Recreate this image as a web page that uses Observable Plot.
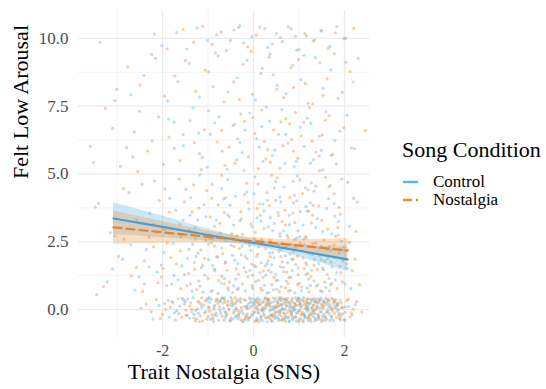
<!DOCTYPE html>
<html>
<head>
<meta charset="utf-8">
<script src="https://cdn.jsdelivr.net/npm/d3@7"></script>
<script src="https://cdn.jsdelivr.net/npm/@observablehq/plot@0.6"></script>
<style>
  html, body { margin: 0; padding: 0; background: white; }
  #wrap { position: relative; width: 546px; height: 389px; font-family: "Liberation Serif", "Times New Roman", serif; }
  #chart svg text { font-family: "Liberation Serif", "Times New Roman", serif !important; }
  #legend { position: absolute; left: 402px; top: 137px; color: #000; }
  #legend .title { font-size: 22px; line-height: 26px; white-space: nowrap; }
  #legend .item { font-size: 17px; line-height: 18px; white-space: nowrap; display: flex; align-items: center; }
  #legend .item.first { margin-top: 10px; }
  #legend svg { margin-right: 14px; }
</style>
</head>
<body>
<div id="wrap"><div id="chart"></div><div id="legend"></div></div>
<script>
// ---- data ----
const seriesNames = ["Control", "Nostalgia"];
const seriesColors = ["#56B4E9", "#F0892A"];
const xTicks = [-2, 0, 2];
const xMinor = [-3, -1, 1];
const yTicks = [0, 2.5, 5, 7.5, 10];
const yMinor = [1.25, 3.75, 6.25, 8.75];

// Control participants: [trait nostalgia, felt low arousal] (jittered)
const controlPts = [
[-1.62,0.12],[-1.41,-0.31],[-1.20,0.27],[-1.05,-0.08],[-0.93,0.38],[-0.81,-0.22],[-0.66,0.05],[-0.52,-0.40],[-0.44,0.21],[-0.31,-0.13],[-0.18,0.33],[-0.07,-0.27],[0.04,0.09],[0.15,-0.36],[0.27,0.18],[0.36,-0.05],[0.48,0.41],[0.57,-0.19],[0.69,0.02],[0.78,-0.44],[0.88,0.26],[0.97,-0.11],[1.08,0.35],[1.19,-0.29],[1.28,0.07],[1.39,-0.38],[1.51,0.16],[1.63,-0.02],[1.77,0.30],[1.92,-0.24],
[-2.21,-0.35],[-1.95,0.22],[-1.74,-0.12],[-1.33,0.44],[-1.12,-0.42],[-0.98,0.10],[-0.74,0.29],[-0.59,-0.17],[-0.38,0.02],[-0.23,-0.44],[-0.12,0.19],[0.01,0.40],[0.11,-0.14],[0.22,0.31],[0.31,-0.30],[0.43,-0.01],[0.53,0.24],[0.62,-0.39],[0.73,0.14],[0.84,-0.09],[0.92,0.43],[1.03,-0.33],[1.14,0.04],[1.24,0.22],[1.35,-0.15],[1.46,0.37],[1.58,-0.41],[1.70,0.09],[1.84,-0.06],[2.09,0.11],
[-2.48,0.05],[-1.86,-0.28],[-1.54,0.36],[-1.27,-0.03],[-0.89,-0.34],[-0.70,0.42],[-0.47,0.13],[-0.28,0.26],[-0.02,-0.20],[0.08,0.25],[0.19,0.00],[0.33,0.39],[0.40,-0.24],[0.51,0.08],[0.60,0.33],[0.66,-0.12],[0.75,-0.31],[0.81,0.20],[0.91,0.03],[1.01,0.28],[1.11,-0.21],[1.21,0.40],[1.31,-0.05],[1.43,-0.27],[1.55,0.25],[1.66,-0.16],[1.81,0.06],[1.99,-0.37],[2.24,0.18],[-0.15,0.07],
[-1.48,-0.20],[-0.85,0.16],[-0.56,0.31],[-0.35,-0.33],[-0.09,0.43],[0.06,-0.41],[0.24,-0.22],[0.45,0.29],[0.71,0.37],[0.86,-0.26],[0.99,-0.45],[1.16,0.18],[1.34,0.31],[1.49,-0.08],[1.72,-0.33],[-1.02,0.34],[0.13,0.17],[0.55,-0.07],[1.26,-0.43],[-0.62,-0.30],
[-1.57,0.41],[-1.36,-0.09],[-1.16,0.20],[-0.99,-0.26],[-0.87,0.02],[-0.77,-0.40],[-0.68,0.24],[-0.54,-0.02],[-0.46,-0.35],[-0.36,0.36],[-0.26,-0.06],[-0.16,-0.23],[-0.05,0.28],[0.03,-0.10],[0.09,0.42],[0.17,-0.28],[0.26,0.04],[0.34,0.21],[0.41,-0.43],[0.50,-0.11],[0.58,0.16],[0.64,0.39],[0.71,-0.24],[0.80,0.06],[0.87,-0.38],[0.94,0.15],[1.02,-0.04],[1.09,-0.40],[1.17,0.27],[1.23,-0.17],[1.30,0.38],[1.37,0.01],[1.44,-0.22],[1.53,0.32],[1.60,-0.10],[1.68,0.19],[1.76,-0.41],[1.86,0.25],[1.96,0.08],[2.17,-0.20],
[-1.80,0.30],[-1.25,-0.35],[-0.96,0.27],[-0.72,-0.14],[-0.50,0.44],[-0.32,-0.25],[-0.20,0.11],[-0.11,-0.39],[0.00,0.23],[0.10,0.02],[0.20,-0.41],[0.29,0.35],[0.38,-0.19],[0.46,0.12],[0.55,-0.33],[0.63,0.05],[0.74,0.30],[0.83,-0.16],[0.90,-0.02],[1.00,0.41],[1.06,0.14],[1.13,-0.31],[1.20,0.06],[1.32,-0.26],[1.41,0.23],[1.48,0.42],[1.57,-0.30],[1.65,0.10],[1.75,0.37],[1.89,-0.14],
[-1.69,-0.05],[-1.50,0.30],[-1.31,-0.18],[-1.14,0.09],[-0.95,-0.37],[-0.79,0.35],[-0.63,-0.08],[-0.49,0.18],[-0.40,-0.27],[-0.29,0.41],[-0.14,-0.16],[-0.03,0.14],[0.07,-0.31],[0.14,0.37],[0.21,-0.06],[0.30,-0.45],[0.39,0.26],[0.47,-0.22],[0.56,0.43],[0.61,-0.01],[0.68,-0.35],[0.77,0.24],[0.85,0.09],[0.93,-0.29],[1.04,0.19],[1.10,0.44],[1.18,-0.07],[1.27,0.30],[1.36,-0.32],[1.45,0.05],[1.54,-0.18],[1.62,0.38],[1.71,-0.26],[1.79,0.13],[1.91,0.35],[2.02,-0.10],[-2.08,0.16],[-1.38,0.25],[-0.83,-0.13],[-0.19,-0.36],[0.35,0.12],[0.79,-0.42],[1.19,0.12],[1.52,-0.38],[1.85,0.20],[-0.64,0.43],[0.02,0.32],[0.52,-0.29],[0.96,0.36],[1.40,0.40],[-1.21,-0.14],[-0.42,-0.05],[0.25,0.41],[0.70,0.22],[1.12,-0.17],[1.61,0.27],[-0.97,0.44],[0.44,0.04],[0.88,-0.03],[1.33,0.17],
[-3.22,1.02],[-2.88,1.85],[-2.61,0.72],[-2.35,2.21],[-2.12,1.38],[-1.91,0.88],[-1.77,2.44],[-1.58,1.61],[-1.39,0.95],[-1.22,2.08],[-1.07,1.27],[-0.94,0.66],[-0.79,1.93],[-0.64,1.14],[-0.49,2.37],[-0.33,0.79],[-0.21,1.55],[-0.06,2.19],[0.05,1.03],[0.17,1.72],[0.29,0.61],[0.38,2.48],[0.49,1.31],[0.61,0.84],[0.70,1.99],[0.82,1.18],[0.93,2.28],[1.05,0.70],[1.17,1.66],[1.29,2.03],[1.41,0.92],[1.54,1.47],[1.67,2.33],[1.80,1.09],[1.96,1.79],[2.14,0.77],
[-1.66,1.10],[-1.30,1.74],[-0.99,2.42],[-0.71,0.98],[-0.41,1.82],[-0.12,1.21],[0.11,2.31],[0.33,1.45],[0.56,2.14],[0.77,0.68],[0.98,1.53],[1.21,1.12],[1.37,2.45],[1.59,0.81],[1.88,2.09],[-2.03,1.64],[-0.55,0.72],[0.24,0.90],[0.87,1.86],[1.46,1.97],
[-1.11,0.64],[0.45,1.91],[1.12,2.40],[-0.27,2.02],[0.66,1.40],[1.73,1.58],[-2.52,1.22],[-0.86,1.49],[0.02,1.62],[1.01,0.97],
[-1.45,1.88],[-1.18,0.86],[-0.90,1.62],[-0.61,2.55],[-0.39,1.12],[-0.18,0.69],[0.07,1.95],[0.27,1.27],[0.51,0.75],[0.63,2.43],[0.85,1.44],[1.07,2.17],[1.25,0.88],[1.43,1.69],[1.62,2.22],[1.83,1.36],[2.01,0.95],[-1.97,2.10],[-2.30,1.57],[-0.78,0.60],[0.40,1.66],[0.72,1.05],[1.15,1.30],[1.51,0.66],[-0.08,1.45],[0.18,2.58],[0.95,2.64],[-1.28,2.60],[1.93,2.52],[-0.46,2.00],
[-1.52,1.29],[-0.35,1.70],[0.34,0.63],[0.80,2.05],[1.34,1.85],[1.69,0.92],[-0.99,1.84],[0.59,1.58],[-2.70,2.40],[-3.10,1.50],
[-1.75,1.26],[-1.42,2.22],[-1.15,1.54],[-0.88,2.63],[-0.62,1.76],[-0.44,0.88],[-0.25,2.34],[-0.02,0.78],[0.14,1.36],[0.35,2.09],[0.53,1.08],[0.75,1.72],[0.91,0.62],[1.10,2.60],[1.28,1.45],[1.49,2.33],[1.66,1.15],[1.86,2.75],[2.06,1.52],[-2.15,2.86],[-1.05,3.42],[-0.52,3.85],[0.08,3.38],[0.46,3.17],[0.88,3.94],[1.37,3.03],[1.77,3.91],[-1.62,3.15],[-0.30,3.28],[0.66,2.90],
[-1.35,0.68],[-0.70,2.27],[-0.14,1.88],[0.30,1.70],[0.83,2.40],[1.18,0.79],[1.57,1.78],[1.99,2.32],[-2.40,0.95],[0.58,2.70],
[-3.41,3.92],[-3.05,2.71],[-2.74,4.31],[-2.43,3.18],[-2.18,4.75],[-1.93,2.95],[-1.71,3.66],[-1.49,4.44],[-1.28,3.02],[-1.09,3.87],[-0.91,4.62],[-0.73,2.83],[-0.57,3.49],[-0.40,4.18],[-0.24,2.77],[-0.10,3.71],[0.03,4.89],[0.16,3.26],[0.30,4.03],[0.42,2.91],[0.54,3.58],[0.67,4.52],[0.79,3.13],[0.90,4.21],[1.02,2.68],[1.15,3.80],[1.27,4.67],[1.40,3.35],[1.52,2.88],[1.65,4.09],[1.79,3.44],[1.94,4.81],[2.11,3.07],[2.28,3.96],
[-1.60,2.69],[-1.18,4.96],[-0.82,3.30],[-0.47,2.64],[-0.15,4.34],[0.21,3.89],[0.49,4.71],[0.74,2.74],[1.09,3.12],[1.33,4.37],[1.61,3.73],[-2.28,3.55],[-0.66,4.08],[0.37,3.39],[0.96,4.93],[1.72,2.79],
[-0.03,3.05],[0.60,3.97],[1.21,3.63],[-1.38,4.12],
[-1.84,4.10],[-1.40,3.48],[-1.02,5.25],[-0.70,4.46],[-0.44,3.12],[-0.21,5.12],[0.01,4.27],[0.23,3.64],[0.41,5.68],[0.58,4.15],[0.78,3.48],[0.94,5.47],[1.14,4.49],[1.31,3.84],[1.49,5.88],[1.69,4.57],[1.87,3.24],[-2.45,4.62],[-1.55,6.45],[-0.86,6.88],[-0.30,6.16],[0.18,6.75],[0.71,6.46],[1.25,5.40],[1.79,6.24],[-0.57,4.79],[0.32,3.05],[1.03,3.61],[-1.23,3.30],[0.87,4.72],
[-3.52,5.42],[-3.10,6.68],[-2.79,5.97],[-2.51,7.31],[-2.23,6.22],[-1.98,5.35],[-1.75,6.91],[-1.54,6.05],[-1.33,7.44],[-1.13,5.61],[-0.95,6.47],[-0.76,7.12],[-0.58,5.18],[-0.42,6.83],[-0.25,5.79],[-0.08,7.25],[0.07,6.31],[0.21,5.47],[0.35,6.95],[0.47,5.88],[0.62,7.38],[0.76,6.14],[0.89,5.26],[1.03,6.72],[1.18,7.06],[1.32,5.53],[1.45,6.39],[1.59,7.29],[1.74,5.72],[1.90,6.58],[2.06,7.17],[2.22,5.94],
[-1.87,7.02],[-1.21,6.51],[-0.69,5.84],[-0.19,6.63],[0.28,7.47],[0.69,5.39],[1.11,6.02],[1.52,5.15],[-0.37,5.52],[0.55,6.46],[1.26,6.87],[-2.66,5.63],[0.13,5.99],
[-3.38,9.85],[-3.01,8.12],[-2.70,7.92],[-2.41,8.63],[-2.16,9.27],[-1.89,7.69],[-1.66,8.41],[-1.42,9.08],[-1.19,7.84],[-0.99,8.77],[-0.78,9.36],[-0.56,8.02],[-0.36,8.55],[-0.14,9.19],[0.04,7.73],[0.19,8.89],[0.36,9.42],[0.52,8.27],[0.71,7.96],[0.86,9.01],[1.04,8.48],[1.20,7.61],[1.36,9.29],[1.53,8.16],[1.70,8.84],[1.86,7.78],[2.03,9.12],[2.19,8.39],[-0.89,8.22],[0.43,8.66],[1.11,9.38],
[-2.02,9.74],[-1.69,10.22],[-1.47,9.61],[-1.24,10.38],[-1.01,9.92],[-0.81,10.13],[-0.60,9.55],[-0.43,10.31],[-0.22,9.83],[-0.04,10.06],[0.14,10.42],[0.31,9.67],[0.50,10.19],[0.64,9.88],[0.83,10.35],[1.00,9.59],[1.16,10.09],[1.34,9.95],[1.50,10.27],[1.68,9.71],[1.83,10.44],[2.03,10.01],[-0.30,10.47],[0.92,10.08]
];

// Nostalgia participants: [trait nostalgia, felt low arousal] (jittered)
const nostalgiaPts = [
[-2.36,0.21],[-2.05,-0.33],[-1.83,0.08],[-1.64,-0.15],[-1.45,0.39],[-1.28,-0.42],[-1.10,0.17],[-0.96,-0.06],[-0.83,0.31],[-0.69,-0.25],[-0.54,0.03],[-0.41,0.44],[-0.29,-0.37],[-0.16,0.12],[-0.04,-0.18],[0.07,0.36],[0.18,-0.03],[0.29,0.23],[0.39,-0.41],[0.50,0.15],[0.59,-0.12],[0.68,0.40],[0.77,-0.28],[0.87,0.06],[0.96,0.32],[1.06,-0.20],[1.15,0.11],[1.25,-0.35],[1.36,0.27],[1.47,-0.09],[1.59,0.42],[1.71,-0.23],[1.85,0.14],[2.01,-0.40],[2.19,0.02],
[-2.14,0.37],[-1.72,-0.39],[-1.52,0.20],[-1.36,0.01],[-1.17,-0.23],[-1.01,0.41],[-0.88,-0.44],[-0.75,0.09],[-0.61,-0.10],[-0.48,0.27],[-0.34,-0.04],[-0.21,0.38],[-0.10,-0.29],[0.02,0.19],[0.12,-0.45],[0.23,0.07],[0.34,0.34],[0.44,-0.16],[0.54,0.25],[0.64,-0.36],[0.72,0.13],[0.82,-0.07],[0.91,0.22],[1.01,-0.38],[1.10,0.30],[1.20,-0.01],[1.31,0.16],[1.42,-0.30],[1.53,0.05],[1.65,0.35],[1.78,-0.14],[1.93,0.24],[2.12,-0.27],[2.38,-0.09],
[-1.93,0.00],[-1.58,-0.29],[-1.22,0.29],[-0.92,-0.17],[-0.64,0.36],[-0.38,-0.22],[-0.13,0.04],[0.10,-0.08],[0.26,0.43],[0.41,0.10],[0.57,0.38],[0.70,-0.43],[0.80,0.28],[0.94,-0.13],[1.04,0.08],[1.18,0.39],[1.28,-0.18],[1.40,0.12],[1.50,-0.44],[1.62,0.20],[1.75,0.04],[1.89,-0.32],[2.05,0.33],[-0.50,-0.31],[0.33,-0.26],[0.61,0.19],[0.99,-0.04],[1.23,0.21],[1.45,0.33],[1.68,-0.40],
[-1.08,-0.12],[-0.78,0.22],[-0.25,-0.42],[0.05,0.30],[0.47,-0.33],[0.85,0.41],[1.13,-0.25],[1.33,-0.03],[1.56,0.15],[1.81,0.37],[0.20,0.26],[0.66,0.01],[-0.58,0.14],[1.96,-0.16],
[-1.77,0.25],[-1.49,-0.02],[-1.31,-0.31],[-1.14,0.43],[-0.99,0.06],[-0.86,-0.21],[-0.73,0.33],[-0.65,-0.40],[-0.56,0.18],[-0.44,-0.12],[-0.37,0.30],[-0.27,0.07],[-0.19,-0.34],[-0.08,0.26],[0.00,-0.09],[0.08,-0.38],[0.15,0.21],[0.22,-0.15],[0.31,0.39],[0.37,0.00],[0.45,-0.27],[0.52,0.32],[0.58,-0.05],[0.63,0.17],[0.69,-0.30],[0.75,0.41],[0.83,-0.19],[0.89,0.10],[0.95,-0.42],[1.02,0.24],[1.08,-0.11],[1.16,0.35],[1.21,-0.29],[1.29,0.05],[1.35,-0.40],[1.43,0.28],[1.51,0.09],[1.58,-0.25],[1.66,0.31],[1.73,-0.06],[1.83,0.18],[1.91,-0.38],[2.02,0.10],[2.27,0.29],
[-2.00,-0.18],[-1.40,0.14],[-1.03,-0.35],[-0.81,0.40],[-0.60,-0.22],[-0.40,0.22],[-0.23,-0.15],[-0.06,0.40],[0.06,0.04],[0.16,-0.24],[0.28,0.13],[0.36,-0.34],[0.48,0.07],[0.56,-0.40],[0.67,0.27],[0.74,-0.12],[0.84,0.33],[0.92,-0.27],[1.00,0.16],[1.09,-0.45],[1.19,0.25],[1.27,-0.09],[1.34,0.41],[1.41,-0.17],[1.49,0.21],[1.61,-0.34],[1.70,0.02],[1.79,0.29],[1.87,-0.21],[2.08,0.38],
[-1.66,0.40],[-1.46,-0.21],[-1.23,0.03],[-1.06,0.32],[-0.91,-0.30],[-0.74,-0.03],[-0.62,0.27],[-0.51,-0.42],[-0.39,0.06],[-0.30,0.33],[-0.17,-0.26],[-0.07,0.09],[0.03,-0.43],[0.11,0.28],[0.19,0.06],[0.27,-0.31],[0.35,0.19],[0.43,0.42],[0.49,-0.08],[0.55,0.12],[0.62,-0.25],[0.71,0.35],[0.78,-0.04],[0.86,-0.33],[0.92,0.18],[0.98,0.43],[1.05,-0.15],[1.12,0.20],[1.20,-0.40],[1.26,0.37],[1.32,-0.12],[1.39,0.08],[1.46,-0.36],[1.55,0.29],[1.63,-0.08],[1.72,0.42],[1.82,-0.30],[1.94,0.07],[2.15,-0.12],[-2.25,-0.08],[-1.88,0.33],[-1.19,-0.45],[-0.68,0.42],[-0.33,-0.18],[0.09,0.14],[0.40,-0.21],[0.80,0.12],[1.17,0.03],[1.52,-0.26],[1.76,0.23],[-0.87,0.10],[-0.12,-0.33],[0.32,0.29],[0.68,-0.16],[1.03,0.36],[1.37,0.31],[1.87,0.01],[-0.47,0.35],[0.60,0.44],[1.24,-0.21],
[-3.30,0.85],[-2.97,1.96],[-2.69,1.24],[-2.44,0.67],[-2.20,2.31],[-1.99,1.52],[-1.80,0.94],[-1.61,2.17],[-1.43,1.33],[-1.25,0.74],[-1.08,1.88],[-0.92,2.46],[-0.77,1.07],[-0.62,1.71],[-0.46,0.63],[-0.31,2.26],[-0.17,1.39],[-0.03,0.88],[0.09,2.04],[0.21,1.19],[0.32,1.81],[0.44,0.73],[0.55,2.39],[0.65,1.56],[0.76,0.96],[0.87,2.12],[0.98,1.28],[1.09,1.90],[1.22,0.65],[1.33,1.63],[1.44,2.27],[1.57,1.01],[1.70,1.75],[1.84,0.78],[2.00,2.18],[2.17,1.43],[2.33,0.92],
[-1.70,1.68],[-1.34,2.41],[-1.00,1.15],[-0.68,2.06],[-0.38,1.50],[-0.09,2.36],[0.16,0.79],[0.39,1.37],[0.60,1.95],[0.81,0.71],[1.03,2.44],[1.26,1.21],[1.49,1.84],[1.77,2.38],[-2.10,0.99],[-0.85,1.44],[0.27,2.25],[0.93,1.66],[1.38,0.86],[-0.53,1.02],[0.71,2.30],[1.62,1.30],[-1.16,2.20],[0.05,1.58],[1.15,1.72],[-0.24,0.95],[0.50,1.08],
[-1.60,0.77],[-1.30,1.49],[-1.05,2.55],[-0.81,1.96],[-0.57,0.80],[-0.33,1.30],[-0.13,2.51],[0.11,1.08],[0.26,1.61],[0.42,2.10],[0.57,0.66],[0.73,1.38],[0.90,2.59],[1.06,0.83],[1.22,2.06],[1.40,1.47],[1.55,2.56],[1.72,0.96],[1.90,1.60],[2.10,2.48],[-2.40,1.80],[-1.90,2.45],[-0.70,1.23],[0.36,2.55],[0.84,1.85],[1.31,2.43],[1.63,1.88],[-0.43,2.32],[0.19,0.71],[1.11,1.52],
[-2.85,2.60],[-1.20,1.05],[-0.02,1.27],[0.63,1.76],[1.47,0.70],[0.97,0.92],[-0.90,0.70],[0.45,1.18],[1.95,1.02],[-3.45,0.55],
[-1.82,1.92],[-1.47,0.88],[-1.12,1.62],[-0.86,2.34],[-0.58,1.45],[-0.36,0.74],[-0.18,1.97],[0.02,2.61],[0.22,1.42],[0.40,0.92],[0.60,2.22],[0.78,1.18],[0.96,1.97],[1.16,2.64],[1.33,1.06],[1.52,1.53],[1.69,2.18],[1.92,1.35],[2.23,1.85],[-2.58,1.55],[-1.35,3.60],[-0.74,3.18],[-0.27,3.35],[0.13,3.90],[0.55,3.47],[0.98,2.90],[1.43,3.82],[1.80,2.70],[-0.48,2.80],[0.86,3.55],
[-1.26,1.95],[-0.64,0.95],[-0.04,1.67],[0.37,1.95],[0.70,0.80],[1.19,1.33],[1.67,0.69],[2.05,1.68],[-2.02,1.20],[-0.95,2.62],
[-3.48,3.78],[-3.15,2.84],[-2.86,4.46],[-2.57,3.31],[-2.30,2.66],[-2.07,4.02],[-1.85,3.59],[-1.63,4.81],[-1.41,2.92],[-1.20,3.74],[-1.03,4.39],[-0.86,3.07],[-0.70,4.95],[-0.53,3.42],[-0.36,2.72],[-0.20,4.24],[-0.06,3.16],[0.10,4.63],[0.23,2.99],[0.35,3.83],[0.46,4.48],[0.58,2.81],[0.69,3.67],[0.80,4.13],[0.91,3.21],[1.02,4.78],[1.14,2.70],[1.25,3.94],[1.37,4.55],[1.50,3.28],[1.63,2.97],[1.77,4.27],[1.91,3.52],[2.07,4.70],[2.25,2.88],
[-1.52,3.97],[-0.97,2.75],[-0.61,4.12],[-0.28,3.61],[0.04,2.85],[0.30,4.31],[0.63,3.25],[0.95,4.01],[1.30,3.48],[1.58,4.88],[-2.20,3.15],[-0.12,3.95],[0.52,4.86],[1.20,4.42],[-0.78,3.86],[0.76,2.65],[1.85,3.03],[0.15,3.47],[-1.32,4.60],
[-1.95,4.45],[-1.55,3.30],[-1.15,5.16],[-0.92,4.10],[-0.64,3.58],[-0.41,5.40],[-0.15,4.66],[0.08,3.73],[0.27,5.55],[0.49,4.03],[0.70,3.12],[0.88,5.84],[1.08,4.28],[1.27,3.19],[1.45,5.66],[1.66,4.52],[1.88,3.77],[2.20,4.10],[-2.55,5.10],[-1.30,6.15],[-0.70,6.60],[-0.20,6.95],[0.24,6.20],[0.60,6.92],[1.05,6.40],[1.58,6.98],[-0.95,3.42],[0.40,4.95],[1.18,3.64],[-2.00,2.95],
[-3.59,6.01],[-3.26,7.42],[-2.93,5.28],[-2.62,6.55],[-2.33,5.84],[-2.09,7.11],[-1.86,6.36],[-1.62,5.49],[-1.40,6.97],[-1.19,5.75],[-0.99,7.33],[-0.80,6.18],[-0.63,5.32],[-0.45,6.78],[-0.28,7.21],[-0.11,5.63],[0.03,6.49],[0.18,7.36],[0.31,5.91],[0.44,6.62],[0.58,5.22],[0.71,7.04],[0.84,6.27],[0.97,5.58],[1.10,6.91],[1.23,7.45],[1.37,5.81],[1.51,6.44],[1.66,7.15],[1.82,5.37],[1.98,6.71],[2.15,5.96],[2.46,6.60],
[-1.74,5.95],[-1.08,6.63],[-0.54,5.99],[-0.02,7.08],[0.37,5.43],[0.65,6.05],[0.92,7.27],[1.29,6.21],[1.71,5.69],[-0.35,6.30],[0.11,5.19],[0.79,6.85],[1.45,5.12],
[-3.05,7.71],[-2.77,8.95],[-2.50,8.28],[-2.24,9.41],[-1.96,7.87],[-1.73,8.62],[-1.50,9.18],[-1.27,8.05],[-1.06,8.83],[-0.84,9.47],[-0.65,7.66],[-0.44,8.40],[-0.23,9.05],[-0.02,7.94],[0.16,8.71],[0.34,9.31],[0.51,8.13],[0.66,7.82],[0.82,8.92],[0.99,9.22],[1.14,8.34],[1.30,7.59],[1.46,9.10],[1.62,8.51],[1.78,9.44],[1.95,8.01],[2.12,8.78],[2.30,9.26],[-0.31,7.74],[0.88,8.19],[1.53,7.90],
[-2.18,10.16],[-1.90,9.62],[-1.55,10.33],[-1.32,9.86],[-1.12,10.45],[-0.91,9.78],[-0.71,10.24],[-0.51,9.93],[-0.33,10.40],[-0.13,9.69],[0.06,10.12],[0.25,10.36],[0.41,9.80],[0.59,10.03],[0.77,10.43],[0.95,9.57],[1.13,10.18],[1.31,9.90],[1.48,10.30],[1.64,9.64],[1.80,10.21],[1.99,9.99],[2.20,10.37],[-0.05,9.52]
];

// Fitted regression lines and 95% bands, read at these x positions
const fitX = [-3.08, -2, -1, 0, 1, 2.07];
const controlFit = [3.36, 3.05, 2.75, 2.46, 2.17, 1.85];
const controlLo  = [2.78, 2.65, 2.53, 2.33, 1.95, 1.40];
const controlHi  = [3.94, 3.45, 2.97, 2.59, 2.39, 2.30];
const nostalgiaFit = [3.03, 2.85, 2.68, 2.52, 2.36, 2.18];
const nostalgiaLo  = [2.42, 2.45, 2.46, 2.39, 2.14, 1.75];
const nostalgiaHi  = [3.64, 3.25, 2.90, 2.65, 2.58, 2.61];

// ---- build tables ----
const bandRows = (lo, fit, hi) => fitX.map((x, i) => ({x, lo: lo[i], fit: fit[i], hi: hi[i]}));
const ctrlBand = bandRows(controlLo, controlFit, controlHi);
const nostBand = bandRows(nostalgiaLo, nostalgiaFit, nostalgiaHi);
const pts = [];
const n = Math.max(controlPts.length, nostalgiaPts.length);
for (let i = 0; i < n; i++) {
  if (i < controlPts.length) pts.push({x: controlPts[i][0], y: controlPts[i][1], g: seriesNames[0]});
  if (i < nostalgiaPts.length) pts.push({x: nostalgiaPts[i][0], y: nostalgiaPts[i][1], g: seriesNames[1]});
}

const serif = "'Liberation Serif', 'Times New Roman', serif";
const chart = Plot.plot({
  width: 546, height: 389,
  marginLeft: 78, marginRight: 177, marginTop: 10, marginBottom: 52,
  style: "font-family: 'Liberation Serif', 'Times New Roman', serif; background: white; overflow: visible;",
  x: {domain: [-3.85, 2.55]},
  y: {domain: [-1.03, 11.03]},
  color: {domain: seriesNames, range: seriesColors},
  marks: [
    Plot.ruleX(xMinor, {stroke: "#ebebeb", strokeWidth: 0.6}),
    Plot.ruleY(yMinor, {stroke: "#ebebeb", strokeWidth: 0.6}),
    Plot.ruleX(xTicks, {stroke: "#ebebeb", strokeWidth: 1.3}),
    Plot.ruleY(yTicks, {stroke: "#ebebeb", strokeWidth: 1.3}),
    Plot.dot(pts, {x: "x", y: "y", fill: "g", r: 1.6, fillOpacity: 0.42, stroke: "none"}),
    Plot.areaY(ctrlBand, {x: "x", y1: "lo", y2: "hi", fill: seriesColors[0], fillOpacity: 0.3, curve: "natural"}),
    Plot.areaY(nostBand, {x: "x", y1: "lo", y2: "hi", fill: seriesColors[1], fillOpacity: 0.28, curve: "natural"}),
    Plot.line(ctrlBand, {x: "x", y: "fit", stroke: "#4E9DD0", strokeWidth: 2.2}),
    Plot.line(nostBand, {x: "x", y: "fit", stroke: "#EB8127", strokeWidth: 2.2, strokeDasharray: "8,5"}),
    Plot.axisX(xTicks, {tickSize: 0, tickPadding: 7, fontSize: 16, fontFamily: serif, fill: "#4d4d4d", tickFormat: d => String(d), label: null}),
    Plot.axisY(yTicks, {tickSize: 0, tickPadding: 10, fontSize: 17, fontFamily: serif, fill: "#4d4d4d", tickFormat: d => d.toFixed(1), label: null}),
    Plot.text(["Trait Nostalgia (SNS)"], {frameAnchor: "bottom", dy: 41, fontSize: 22, fontFamily: serif, fill: "black"}),
    Plot.text(["Felt Low Arousal"], {frameAnchor: "left", rotate: -90, dx: -58, dy: 5, fontSize: 22, fontFamily: serif, fill: "black"})
  ]
});
document.getElementById("chart").appendChild(chart);

// legend
const legend = document.getElementById("legend");
legend.innerHTML = `<div class="title">Song Condition</div>` + seriesNames.map((name, i) => {
  const dash = i === 1 ? 'stroke-dasharray="9,4"' : '';
  return `<div class="item${i === 0 ? ' first' : ''}"><svg width="17" height="10"><line x1="1" x2="16" y1="5" y2="5" stroke="${seriesColors[i]}" stroke-width="2.4" ${dash}/></svg>${name}</div>`;
}).join("");
</script>
</body>
</html>
